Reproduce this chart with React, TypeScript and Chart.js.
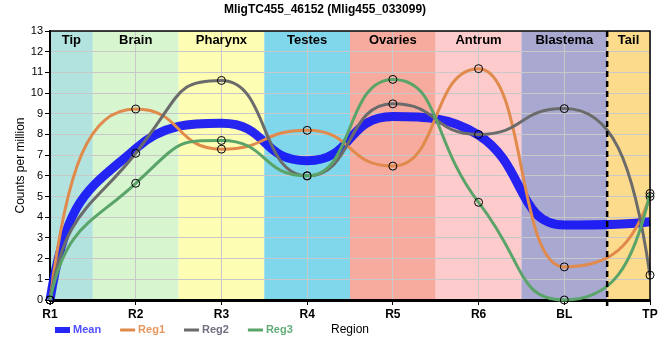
import React, { useEffect, useRef } from "react";
import { Chart, registerables } from "chart.js";

Chart.register(...registerables);

// ---- data ----
const CATEGORIES = ["R1", "R2", "R3", "R4", "R5", "R6", "BL", "TP"];
const MEAN = [0, 7.32, 8.54, 6.73, 8.87, 7.97, 3.62, 3.78];
const REG1 = [0, 9.23, 7.29, 8.2, 6.47, 11.18, 1.6, 5.0];
const REG2 = [0, 7.09, 10.61, 6.0, 9.48, 8.0, 9.25, 1.2];
const REG3 = [0, 5.64, 7.71, 6.0, 10.66, 4.72, 0, 5.15];
const SERIES_NAMES = ["Mean", "Reg1", "Reg2", "Reg3"];
const REGION_NAMES = ["Tip", "Brain", "Pharynx", "Testes", "Ovaries", "Antrum", "Blastema", "Tail"];
const Y_TICKS_MAX = 13;
const TITLE = "MligTC455_46152 (Mlig455_033099)";

// ---- styles ----
const FONT = "'Liberation Sans', Arial, sans-serif";
const REGION_COLORS = ["#b3e3df", "#d7f5cf", "#fefdb4", "#80d6ea", "#f6ab9e", "#fdcbcc", "#a8a8d0", "#fddb8c"];
const SERIES_COLORS = ["rgba(20,20,245,0.92)", "#e08a4c", "#6b6b6b", "#5aa469"];
const LEGEND_TEXT_COLORS = ["#4f4fff", "#e8955e", "#6f6f80", "#62ae78"];
const SERIES_WIDTHS = [9, 3, 3, 3];
const HANDLE = 0.55; // relative horizontal handle length of bezier control points
const END_HANDLE_X = 0.2; // handle at the first/last point (relative horizontal)
const END_HANDLE_Y = 0.7; // handle at the first/last point (relative vertical)

// Reshapes the bezier handles Chart.js computed (monotone tangents) to a smoother, flatter look.
const curvePlugin = {
  id: "curveShape",
  beforeDatasetDraw(chart: any, args: any) {
    const meta = args.meta;
    const line = meta.dataset;
    if (!line || typeof line.updateControlPoints !== "function") return;
    line.updateControlPoints(chart.chartArea, meta.indexAxis);
    const pts = meta.data;
    const n = pts.length;
    if (n < 2) return;
    const slope = pts.map((p: any, i: number) => {
      if (i === 0 || i === n - 1) return 0;
      const dx = p.cp2x - p.x;
      return dx !== 0 ? (p.cp2y - p.y) / dx : 0;
    });
    for (let i = 0; i < n - 1; i++) {
      const p = pts[i];
      const q = pts[i + 1];
      const h = q.x - p.x;
      const dy = q.y - p.y;
      let ax: number, ay: number, bx: number, by: number;
      if (i === 0) {
        ax = END_HANDLE_X * h;
        ay = END_HANDLE_Y * dy;
      } else {
        ax = HANDLE * h;
        ay = HANDLE * h * slope[i];
      }
      if (i + 1 === n - 1) {
        bx = -END_HANDLE_X * h;
        by = -END_HANDLE_Y * dy;
      } else {
        bx = -HANDLE * h;
        by = -HANDLE * h * slope[i + 1];
      }
      const sum = Math.abs(ay) + Math.abs(by);
      if (sum > Math.abs(dy) && sum > 0) {
        const f = Math.abs(dy) / sum;
        ax *= f; ay *= f; bx *= f; by *= f;
      }
      p.cp2x = p.x + ax;
      p.cp2y = p.y + ay;
      q.cp1x = q.x + bx;
      q.cp1y = q.y + by;
    }
  },
};

const bandsPlugin = {
  id: "bands",
  beforeDraw(chart: any) {
    const { ctx, chartArea, scales } = chart;
    const x = scales.x;
    const n = CATEGORIES.length;
    ctx.save();
    for (let i = 0; i < n; i++) {
      const c = x.getPixelForValue(i);
      const l = i === 0 ? chartArea.left : (x.getPixelForValue(i - 1) + c) / 2;
      const r = i === n - 1 ? chartArea.right : (x.getPixelForValue(i + 1) + c) / 2;
      ctx.fillStyle = REGION_COLORS[i];
      ctx.fillRect(l, chartArea.top, r - l, chartArea.bottom - chartArea.top);
    }
    ctx.restore();
  },
  beforeDatasetsDraw(chart: any) {
    const { ctx, chartArea, scales } = chart;
    const x = scales.x;
    const n = CATEGORIES.length;
    ctx.save();
    ctx.font = `bold 13px ${FONT}`;
    ctx.fillStyle = "#000";
    ctx.textAlign = "center";
    ctx.textBaseline = "middle";
    for (let i = 0; i < n; i++) {
      const c = x.getPixelForValue(i);
      const l = i === 0 ? chartArea.left : (x.getPixelForValue(i - 1) + c) / 2;
      const r = i === n - 1 ? chartArea.right : (x.getPixelForValue(i + 1) + c) / 2;
      ctx.fillText(REGION_NAMES[i], (l + r) / 2, chartArea.top + 9);
    }
    ctx.restore();
  },
  afterDatasetsDraw(chart: any) {
    const { ctx, chartArea, scales } = chart;
    const x = scales.x;
    const n = CATEGORIES.length;
    ctx.save();
    ctx.strokeStyle = "#000";
    ctx.lineWidth = 1.5;
    ctx.beginPath();
    ctx.moveTo(chartArea.left, chartArea.top);
    ctx.lineTo(chartArea.right, chartArea.top);
    ctx.lineTo(chartArea.right, chartArea.bottom);
    ctx.stroke();
    const dx = (x.getPixelForValue(n - 2) + x.getPixelForValue(n - 1)) / 2;
    ctx.lineWidth = 2.5;
    ctx.setLineDash([6, 4]);
    ctx.beginPath();
    ctx.moveTo(dx, chartArea.top);
    ctx.lineTo(dx, chartArea.bottom + 6);
    ctx.stroke();
    ctx.restore();
  },
  afterDraw(chart: any) {
    const { ctx } = chart;
    ctx.save();
    ctx.font = `bold 11px ${FONT}`;
    ctx.textBaseline = "middle";
    ctx.textAlign = "left";
    let px = 55;
    const py = 330;
    for (let i = 0; i < SERIES_NAMES.length; i++) {
      ctx.fillStyle = SERIES_COLORS[i];
      const h = i === 0 ? 6 : 3;
      ctx.fillRect(px, py - h / 2, 15, h);
      ctx.fillStyle = LEGEND_TEXT_COLORS[i];
      ctx.fillText(SERIES_NAMES[i], px + 18, py);
      px += 18 + ctx.measureText(SERIES_NAMES[i]).width + 19;
    }
    ctx.restore();
  },
};

export default function App() {
  const ref = useRef<HTMLCanvasElement | null>(null);

  useEffect(() => {
    if (!ref.current) return;
    const seriesData = [MEAN, REG1, REG2, REG3];
    const datasets = seriesData.map((d, i) => ({
      label: SERIES_NAMES[i],
      data: d,
      borderColor: SERIES_COLORS[i],
      backgroundColor: "rgba(0,0,0,0)",
      borderWidth: SERIES_WIDTHS[i],
      cubicInterpolationMode: "monotone" as const,
      pointRadius: i === 0 ? 0 : 4,
      pointBorderColor: "#000",
      pointBorderWidth: 1,
      pointBackgroundColor: "rgba(0,0,0,0)",
      order: 4 - i,
      clip: 6,
    }));
    const chart = new Chart(ref.current, {
      type: "line",
      data: { labels: CATEGORIES, datasets },
      plugins: [bandsPlugin, curvePlugin],
      options: {
        animation: false,
        responsive: false,
        layout: { padding: { left: 0, right: 10, top: 0, bottom: 0 } },
        plugins: {
          legend: { display: false },
          tooltip: { enabled: false },
          title: {
            display: true,
            text: TITLE,
            color: "#000",
            font: { family: FONT, size: 12, weight: "bold" },
            padding: { top: 2, bottom: 14.6 },
          },
        },
        scales: {
          x: {
            type: "category",
            offset: false,
            afterFit(scale: any) {
              scale.height = 60;
            },
            grid: { color: "#c8c8c8", lineWidth: 1, tickLength: 5, tickColor: "#000" },
            border: { color: "#000", width: 3 },
            ticks: { color: "#000", font: { family: FONT, size: 12, weight: "bold" }, padding: 2, maxRotation: 0 },
            title: {
              display: true,
              text: "Region",
              color: "#000",
              font: { family: FONT, size: 12 },
              padding: { top: 0, bottom: 23 },
            },
          },
          y: {
            min: 0,
            max: Y_TICKS_MAX,
            afterFit(scale: any) {
              scale.width = 50;
            },
            grid: { color: "#c8c8c8", lineWidth: 1, tickLength: 5, tickColor: "#000" },
            border: { color: "#000", width: 2 },
            ticks: { stepSize: 1, color: "#000", font: { family: FONT, size: 11 }, padding: 2 },
            title: {
              display: true,
              text: "Counts per million",
              color: "#000",
              font: { family: FONT, size: 12 },
              padding: { top: 13, bottom: 0 },
            },
          },
        },
      },
    });
    return () => chart.destroy();
  }, []);

  return (
    <div style={{ position: "absolute", left: 0, top: 0, width: 660, height: 360, background: "#fff" }}>
      <canvas ref={ref} width={660} height={360} style={{ display: "block" }} />
    </div>
  );
}
